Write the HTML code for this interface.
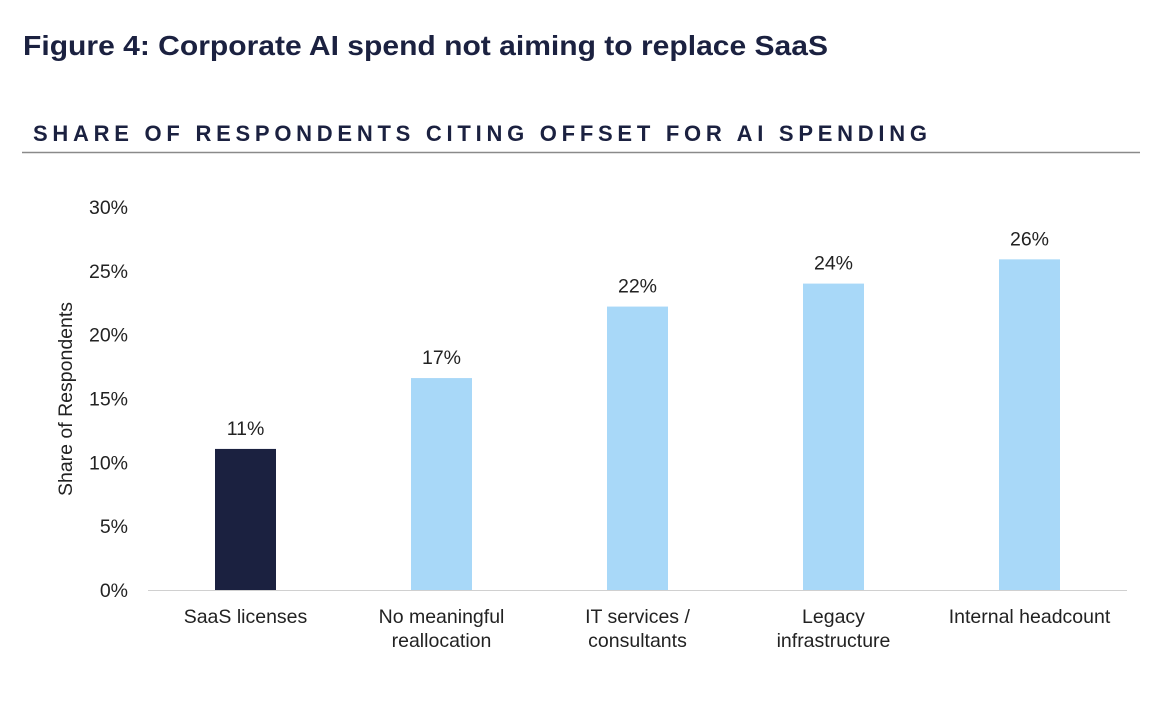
<!DOCTYPE html>
<html><head><meta charset="utf-8"><style>
html,body{margin:0;padding:0;background:#fff;width:1158px;height:712px;overflow:hidden}
svg{display:block;font-family:"Liberation Sans",Arial,sans-serif}
</style></head><body>
<svg id="chart" width="1158" height="712" viewBox="0 0 1158 712">
<text x="23" y="55" font-size="28" font-weight="bold" fill="#1b2140" textLength="805" lengthAdjust="spacingAndGlyphs">Figure 4: Corporate AI spend not aiming to replace SaaS</text>
<text x="33" y="141" font-size="22" font-weight="bold" fill="#1b2140" textLength="894" lengthAdjust="spacing">SHARE OF RESPONDENTS CITING OFFSET FOR AI SPENDING</text>
<line x1="22" y1="152.5" x2="1140" y2="152.5" stroke="#8a8a8a" stroke-width="1.5"/>
<text transform="translate(72,399) rotate(-90)" text-anchor="middle" font-size="19.5" fill="#222">Share of Respondents</text>
<g id="yticks"></g>
<line x1="148" y1="590.5" x2="1127" y2="590.5" stroke="#d0d0d0" stroke-width="1"/>
<g id="bars"></g>
</svg>
<script>
const categories = [["SaaS licenses"],["No meaningful","reallocation"],["IT services /","consultants"],["Legacy","infrastructure"],["Internal headcount"]];
const values = [11.05, 16.6, 22.2, 24.0, 25.9];
const valueLabels = ["11%","17%","22%","24%","26%"];
const yTicks = [0,5,10,15,20,25,30];
const yTickLabels = ["0%","5%","10%","15%","20%","25%","30%"];
const NS="http://www.w3.org/2000/svg";
const FS='19.5';
const y = v => 590 - v*(383/30);
const x = i => 245.5 + i*196;
const yg=document.getElementById('yticks');
yTicks.forEach((t,i)=>{
  const el=document.createElementNS(NS,'text');
  el.setAttribute('x',128);el.setAttribute('y',y(t)+7);
  el.setAttribute('text-anchor','end');el.setAttribute('font-size',FS);el.setAttribute('fill','#222');
  el.textContent=yTickLabels[i];
  
  
  yg.appendChild(el);
});
const bg=document.getElementById('bars');
values.forEach((v,i)=>{
  const r=document.createElementNS(NS,'rect');
  r.setAttribute('x',x(i)-30.5);r.setAttribute('width',61);
  r.setAttribute('y',y(v));r.setAttribute('height',590-y(v));
  r.setAttribute('fill',i===0?'#1b2140':'#a8d8f8');
  
  
  bg.appendChild(r);
  const t=document.createElementNS(NS,'text');
  t.setAttribute('x',x(i));t.setAttribute('y',y(v)-14);
  t.setAttribute('text-anchor','middle');t.setAttribute('font-size',FS);t.setAttribute('fill','#222');
  t.textContent=valueLabels[i];
  
  
  bg.appendChild(t);
  categories[i].forEach((ln,j)=>{
    const c=document.createElementNS(NS,'text');
    c.setAttribute('x',x(i));c.setAttribute('y',623+j*24);
    c.setAttribute('text-anchor','middle');c.setAttribute('font-size',FS);c.setAttribute('fill','#222');
    c.textContent=ln;
    
    
    bg.appendChild(c);
  });
});
</script>
</body></html>
